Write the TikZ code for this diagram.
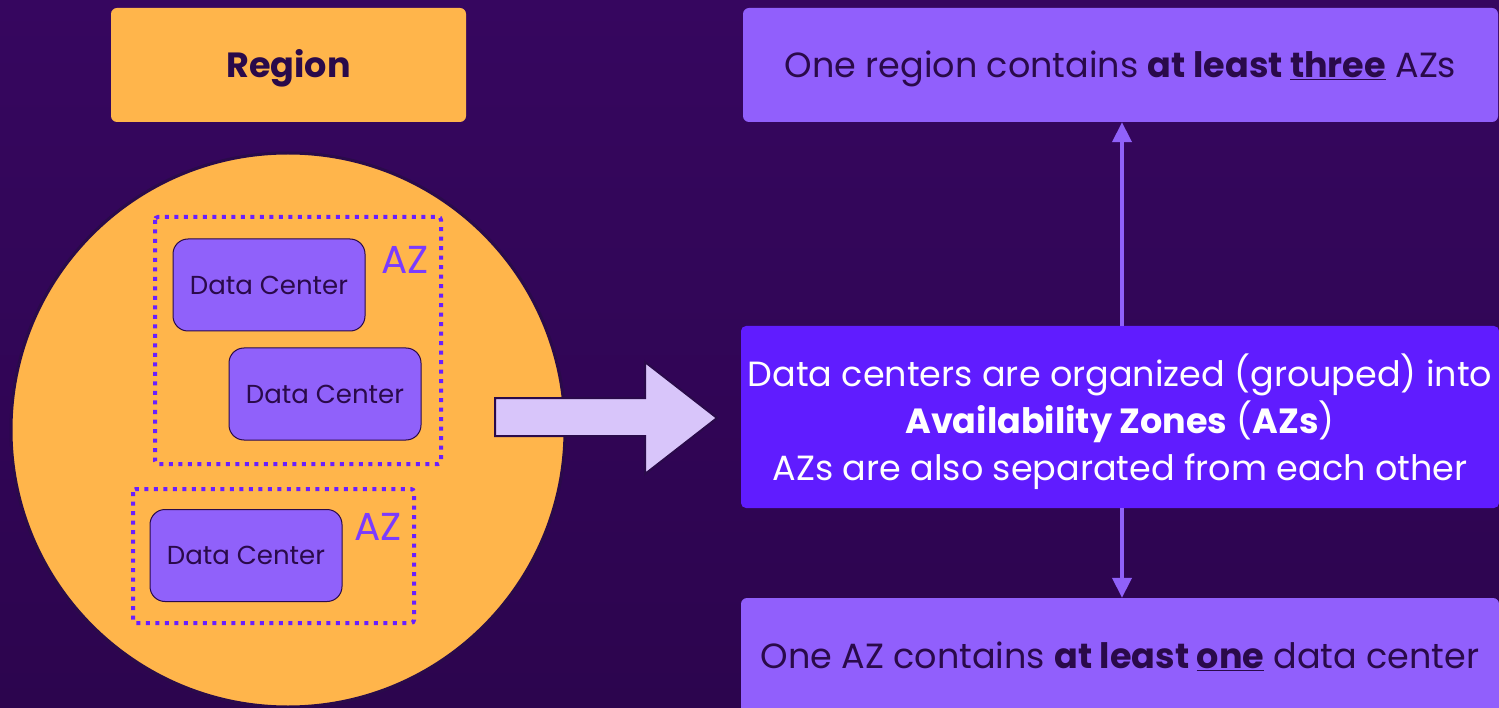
\documentclass[tikz,border=0pt]{standalone}
\usepackage{fontspec}
\setmainfont{Poppins}
\usetikzlibrary{arrows.meta}
\definecolor{bgtop}{HTML}{36065F}
\definecolor{bgbot}{HTML}{2C054E}
\definecolor{orangefill}{HTML}{FFB54B}
\definecolor{dcfill}{HTML}{9061FA}
\definecolor{boxfill}{HTML}{915FFC}
\definecolor{midfill}{HTML}{601CFF}
\definecolor{darkink}{HTML}{2A0A4A}
\definecolor{azline}{HTML}{6A1FFF}
\definecolor{azlabel}{HTML}{7B3BFF}
\definecolor{bigarrow}{HTML}{D8C5FA}
\definecolor{linkcol}{HTML}{9061FA}
% move a line of text vertically without changing its box
\newcommand{\nudge}[2]{\raisebox{#1}[\height][\depth]{#2}}
\begin{document}
\begin{tikzpicture}[x=1pt,y=-1pt,
  infobox/.style={fill=boxfill, rounded corners=6pt, text=darkink, align=center,
    font=\fontsize{35}{47}\selectfont},
  dcbox/.style={draw=darkink, line width=1pt, fill=dcfill, rounded corners=15pt,
    text=darkink, minimum width=192pt, minimum height=92pt,
    font=\fontsize{26}{30}\selectfont},
  azbox/.style={draw=azline, line width=4pt, dash pattern=on 4pt off 5.5pt},
  azlab/.style={text=azlabel, font=\fontsize{39}{44}\selectfont, inner sep=0pt},
  link/.style={draw=linkcol, line width=4pt, -{Triangle[width=19pt,length=20pt]}}
]
% background
\useasboundingbox (0,0) rectangle (1499,708);
\shade[top color=bgtop, bottom color=bgbot] (0,0) rectangle (1499,708);

% region title
\node[fill=orangefill, rounded corners=6pt, minimum width=355pt, minimum height=114pt,
  text=darkink, font=\fontsize{35}{40}\selectfont\bfseries] (region) at (288.5,65)
  {\nudge{-3pt}{Region}};

% region circle
\node[circle, draw=darkink, line width=3pt, fill=orangefill, minimum size=554pt,
  inner sep=0pt] (circ) at (288,430) {};

% availability zones
\draw[azbox, rounded corners=3pt] (155,217) rectangle (441,464);
\draw[azbox, rounded corners=3pt] (133,489) rectangle (414,623);
\node[azlab, anchor=south west] (az1) at (381,274) {AZ};
\node[azlab, anchor=south west] (az2) at (354,541) {AZ};

% data centers
\node[dcbox] (dc1) at (269,285) {Data Center};
\node[dcbox] (dc2) at (325,394) {Data Center};
\node[dcbox] (dc3) at (246,555.5) {Data Center};

% block arrow from region to explanation
\draw[fill=bigarrow, draw=darkink, line width=2pt]
  (495,398) -- (645,398) -- (645,362) -- (717,418) -- (645,474) -- (645,436) -- (495,436) -- cycle;

% explanation boxes
\node[infobox, minimum width=755pt, minimum height=114pt] (top) at (1120.5,65)
  {\nudge{-4pt}{One region contains \textbf{at least \underline{three}} AZs}};
\node[infobox, fill=midfill, text=white, rounded corners=5pt, minimum width=758pt,
  minimum height=182pt, text depth=0pt] (mid) at (1120,417)
  {Data centers are organized (grouped) into\\
   \textbf{Availability Zones} (\textbf{AZs})\\
   AZs are also separated from each other};
\node[infobox, minimum width=758pt, minimum height=124pt] (bot) at (1120,660)
  {\nudge{4pt}{One AZ contains \textbf{at least \underline{one}} data center}};

% connectors
\draw[link] (mid.north -| 1122,0) -- (top.south -| 1122,0);
\draw[link] (mid.south -| 1122,0) -- (bot.north -| 1122,0);
\end{tikzpicture}
\end{document}
